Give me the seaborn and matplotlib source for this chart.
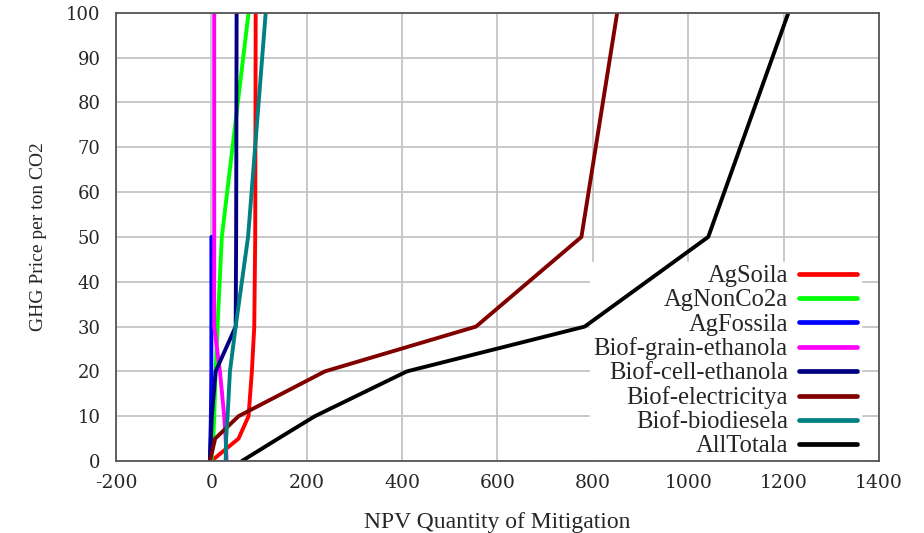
import matplotlib
matplotlib.use("Agg")
import matplotlib.pyplot as plt
import numpy as np
import pandas as pd
import seaborn as sns

# GHG price levels (y) and NPV mitigation quantity per series (x)
PRICE = [0, 5, 10, 20, 30, 50, 100]
AG_SOIL = [0, 57, 78, 85, 90, 92, 93]
AG_NONCO2 = [0, 4, 6, 9, 13, 22, 78]
AG_FOSSIL = [-3, -2, -1, 0, 0, 0, np.nan]
GRAIN_ETHANOL = [32, 30, 27, 18, 6, 6, 6]
CELL_ETHANOL = [-3, -1, 1, 9, 51, 52, 53]
ELECTRICITY = [-3, 8, 57, 238, 555, 776, 851]
BIODIESEL = [30, 31, 34, 39, 51, 77, 114]
ALL_TOTAL = [64, 140, 217, 410, 783, 1042, 1210]

SERIES = {
    "AgSoila": AG_SOIL,
    "AgNonCo2a": AG_NONCO2,
    "AgFossila": AG_FOSSIL,
    "Biof-grain-ethanola": GRAIN_ETHANOL,
    "Biof-cell-ethanola": CELL_ETHANOL,
    "Biof-electricitya": ELECTRICITY,
    "Biof-biodiesela": BIODIESEL,
    "AllTotala": ALL_TOTAL,
}
COLORS = ["#FF0000", "#00FF00", "#0000FF", "#FF00FF", "#000080", "#800000", "#008080", "#000000"]

X_TICKS = [-200, 0, 200, 400, 600, 800, 1000, 1200, 1400]
Y_TICKS = [0, 10, 20, 30, 40, 50, 60, 70, 80, 90, 100]

rows = []
for name, values in SERIES.items():
    for price, qty in zip(PRICE, values):
        rows.append({"series": name, "price": price, "qty": qty})
df = pd.DataFrame(rows).dropna()

sns.set_theme(style="whitegrid")
plt.rcParams.update({
    "font.family": ["Liberation Serif", "DejaVu Serif"],
    "axes.edgecolor": "#555555",
    "axes.linewidth": 1.3,
    "grid.color": "#c4c4c4",
    "grid.linewidth": 1.3,
    "axes.axisbelow": True,
})

fig, ax = plt.subplots(figsize=(9.24, 5.33), dpi=100)
fig.subplots_adjust(left=0.1255, right=0.9513, top=0.976, bottom=0.135)

sns.lineplot(
    data=df, x="qty", y="price", hue="series",
    hue_order=list(SERIES.keys()), palette=COLORS,
    sort=False, estimator=None, linewidth=2.8, ax=ax,
)

ax.set_xlim(-200, 1400)
ax.set_ylim(0, 100)
ax.set_xticks(X_TICKS)
ax.set_yticks(Y_TICKS)
ax.set_xticklabels([str(t) for t in X_TICKS], family="DejaVu Serif", fontsize=13.5)
ax.set_yticklabels([str(t) for t in Y_TICKS], family="DejaVu Serif", fontsize=13)
ax.tick_params(axis="both", length=0)
ax.tick_params(axis="y", pad=11)
ax.tick_params(axis="x", pad=9)
for side in ["top", "bottom", "left", "right"]:
    ax.spines[side].set_visible(True)
    ax.spines[side].set_color("#555555")

ax.set_xlabel("NPV Quantity of Mitigation", fontsize=17, labelpad=15)
ax.set_ylabel("GHG Price per ton CO2", fontsize=14, labelpad=14)

leg = ax.legend(
    loc="lower right", bbox_to_anchor=(0.976, 0.0), borderaxespad=0,
    markerfirst=False, frameon=True, fancybox=False, framealpha=1,
    facecolor="white", edgecolor="white", fontsize=17.7,
    handlelength=2.36, handletextpad=0.45, labelspacing=0.075, borderpad=0.15,
)
for line in leg.get_lines():
    line.set_linewidth(3.4)
leg.set_zorder(1.5)

fig.savefig("out.png", dpi=100)
